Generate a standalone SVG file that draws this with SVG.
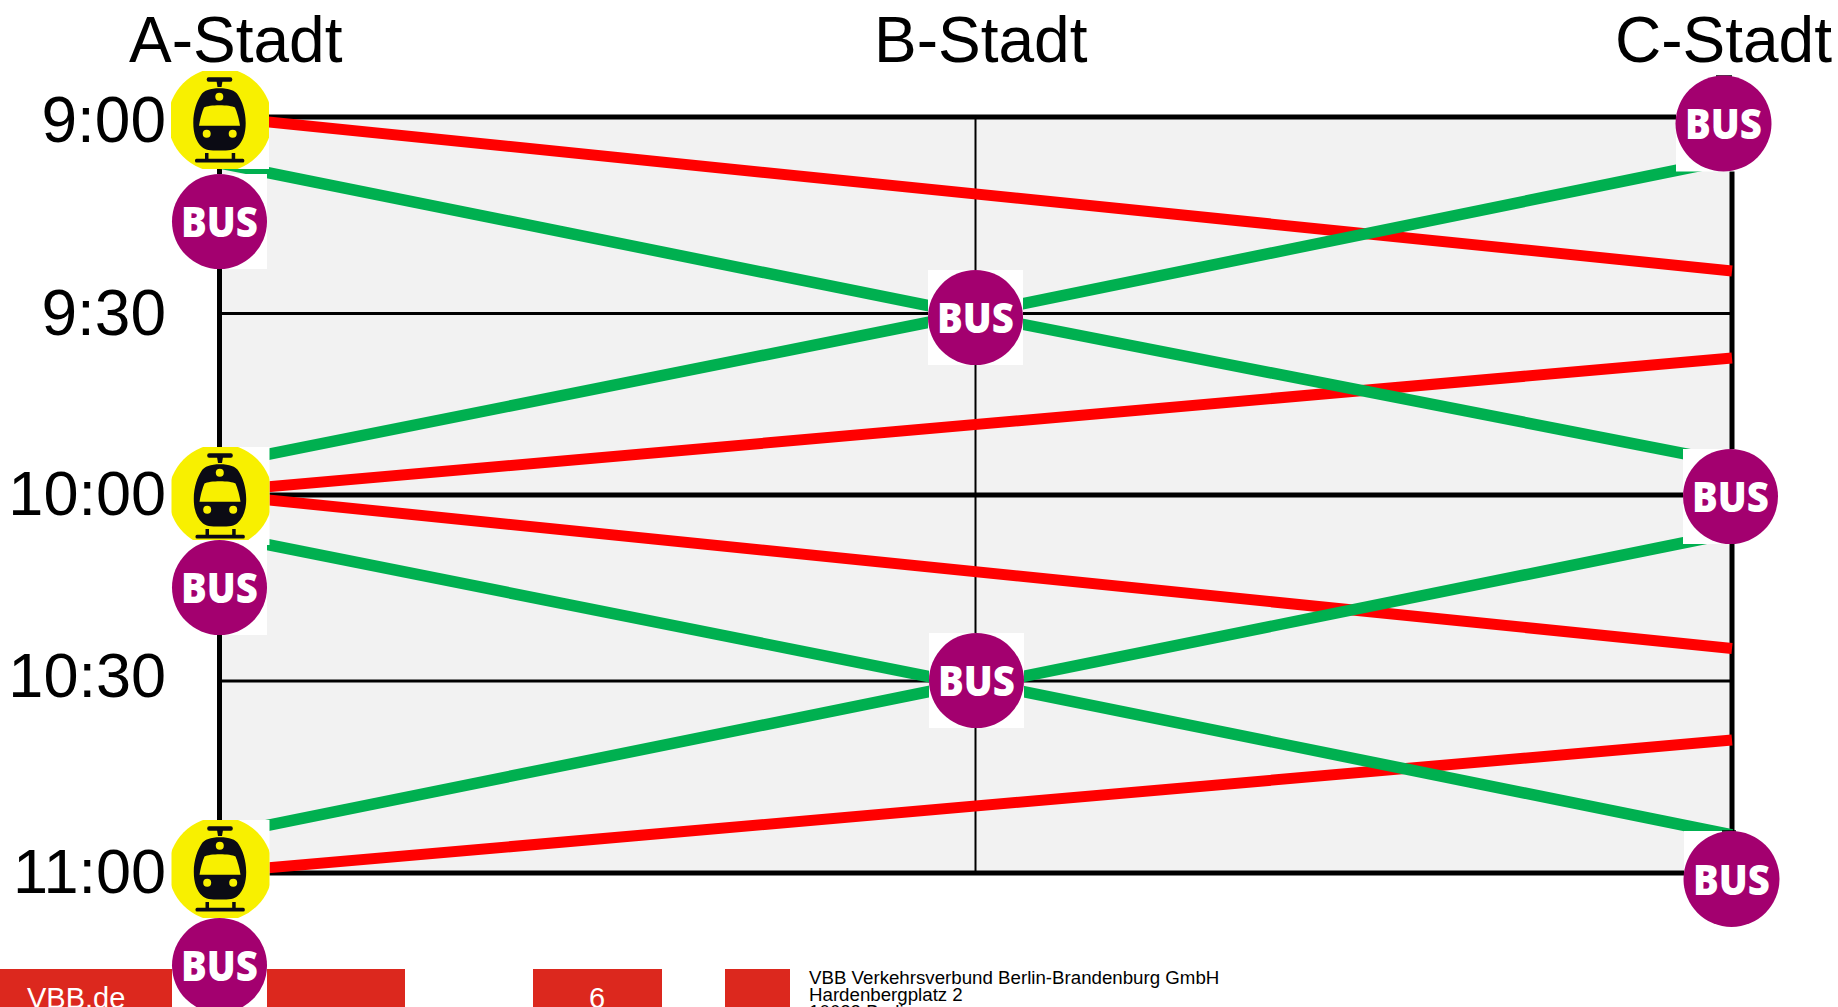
<svg xmlns="http://www.w3.org/2000/svg" width="1838" height="1007" viewBox="0 0 1838 1007">
<style>
text{font-family:"Liberation Sans",Arial,sans-serif;fill:#000}
.h{font-size:64px}
.t{font-size:64px;text-anchor:end}
.t2{font-size:63px;text-anchor:end}
.f{font-size:18.7px}
.w{font-size:29px;fill:#fff}
.foot{fill:#dc281e}
.thick{stroke:#000;stroke-width:5;fill:none}
.thin{stroke:#000;stroke-width:3;fill:none}
.thinv{stroke:#000;stroke-width:2;fill:none}
.red{stroke:#f00;stroke-width:11;fill:none}
.green{stroke:#00b050;stroke-width:11.500;fill:none}
.bg{fill:#fff}
.disc{fill:#a3006f}
.bus{font-family:"Open Sans","Noto Sans",sans-serif;font-weight:800;font-size:42px;fill:#fff;text-anchor:middle}
.ink{fill:#0b0b14}
.y{fill:#f8f000}
</style>
<defs>
<clipPath id="box"><rect width="98" height="98"/></clipPath>
<g id="train">
<rect class="bg" width="98" height="98"/>
<circle class="y" cx="49" cy="49" r="52" clip-path="url(#box)"/>
<rect class="ink" x="35.700" y="6.300" width="25.600" height="4.400" rx="2"/>
<path class="ink" d="M45.500 10L51.500 10L50.500 16L46.500 16Z"/>
<path class="ink" d="M48.500 17.300C58 17.300 64 19.500 67 24C71 30 74.700 40 74.700 52C74.700 62 72 71 66 76C63 79 58 79.500 48.500 79.500C39 79.500 34 79 31 76C25 71 22.300 62 22.300 52C22.300 40 26 30 30 24C33 19.500 39 17.300 48.500 17.300Z"/>
<circle class="y" cx="48.300" cy="25.700" r="4"/>
<path class="y" d="M33 36.500C38 33.500 59 33.500 64 36.500C66 41 68 48 69 54.700L28 54.700C29 48 31 41 33 36.500Z"/>
<circle class="y" cx="35.700" cy="62.700" r="4"/>
<circle class="y" cx="61.700" cy="62.700" r="4"/>
<rect class="ink" x="24" y="87.700" width="49.300" height="3.800" rx="1.500"/>
<rect class="ink" x="34" y="82" width="3.500" height="6"/>
<rect class="ink" x="60.700" y="82" width="3.500" height="6"/>
</g>
</defs>

<g id="grid">
<rect x="219.500" y="117" width="1512.500" height="756" fill="#f2f2f2"/>
<path class="thin" d="M219.500 313.500H1732M219.500 681H1732"/>
<path class="thinv" d="M975.500 117V873"/>
<path class="thick" d="M219.500 117H1732V873H219.500ZM219.500 495H1732"/>
</g>

<g id="connectors">
<path class="red" d="M220 117L1732 271"/>
<path class="red" d="M220 491L1732 358"/>
<path class="red" d="M220 495L1732 648.500"/>
<path class="red" d="M220 872L1732 740"/>
<path class="green" d="M220 163L975 315"/>
<path class="green" d="M220 464L975 313"/>
<path class="green" d="M975 313.500L1732 159"/>
<path class="green" d="M975 315L1732 463"/>
<path class="green" d="M220 535L976 686"/>
<path class="green" d="M220 835L976 682"/>
<path class="green" d="M976 686L1732 533"/>
<path class="green" d="M976 682L1732 835"/>
</g>

<g id="footer">
<rect class="foot" x="0" y="969" width="405" height="38"/>
<rect class="foot" x="533" y="969" width="129" height="38"/>
<rect class="foot" x="725" y="969" width="65" height="38"/>
<text class="w" x="27" y="1008">VBB.de</text>
<text class="w" x="589" y="1008">6</text>
<text class="f" x="809" y="984">VBB Verkehrsverbund Berlin-Brandenburg GmbH</text>
<text class="f" x="809" y="1001">Hardenbergplatz 2</text>
<text class="f" x="809" y="1018">10623 Berlin</text>
</g>

<g id="labels">
<text class="h" x="129" y="62">A-Stadt</text>
<text class="h" x="874" y="62">B-Stadt</text>
<text class="h" x="1615" y="62">C-Stadt</text>
<text class="t" x="166" y="142">9:00</text>
<text class="t" x="166" y="335">9:30</text>
<text class="t2" x="166" y="515">10:00</text>
<text class="t2" x="166" y="697">10:30</text>
<text class="t2" x="166" y="893">11:00</text>
</g>

<g id="train-a1"><use href="#train" x="171" y="71"/></g>
<g id="train-a2"><use href="#train" x="171.500" y="447"/></g>
<g id="train-a3"><use href="#train" x="171.500" y="820"/></g>

<g id="bus-a1" transform="translate(172,174)"><rect class="bg" width="95" height="95"/><circle class="disc" cx="47.500" cy="47.500" r="47.500"/><text class="bus" x="47.500" y="63" textLength="77" lengthAdjust="spacingAndGlyphs">BUS</text></g>
<g id="bus-a2" transform="translate(172,540)"><rect class="bg" width="95" height="95"/><circle class="disc" cx="47.500" cy="47.500" r="47.500"/><text class="bus" x="47.500" y="63" textLength="77" lengthAdjust="spacingAndGlyphs">BUS</text></g>
<g id="bus-a3" transform="translate(172,918)"><rect class="bg" width="95" height="95"/><circle class="disc" cx="47.500" cy="47.500" r="47.500"/><text class="bus" x="47.500" y="63" textLength="77" lengthAdjust="spacingAndGlyphs">BUS</text></g>
<g id="bus-b1" transform="translate(928,270)"><rect class="bg" width="95" height="95"/><circle class="disc" cx="47.500" cy="47.500" r="47.500"/><text class="bus" x="47.500" y="63" textLength="77" lengthAdjust="spacingAndGlyphs">BUS</text></g>
<g id="bus-b2" transform="translate(929,633)"><rect class="bg" width="95" height="95"/><circle class="disc" cx="47.500" cy="47.500" r="47.500"/><text class="bus" x="47.500" y="63" textLength="77" lengthAdjust="spacingAndGlyphs">BUS</text></g>
<g id="bus-c1" transform="translate(1676,75.500)"><rect class="bg" y="1" width="95" height="95"/><path d="M40 0.500H56" stroke="#000" stroke-width="1.500"/><circle class="disc" cx="47.500" cy="48" r="48"/><text class="bus" x="47.500" y="63.500" textLength="77" lengthAdjust="spacingAndGlyphs">BUS</text></g>
<g id="bus-c2" transform="translate(1683,449)"><rect class="bg" width="95" height="95"/><circle class="disc" cx="47.500" cy="47.500" r="47.500"/><text class="bus" x="47.500" y="63" textLength="77" lengthAdjust="spacingAndGlyphs">BUS</text></g>
<g id="bus-c3" transform="translate(1684,830)"><rect class="bg" y="1" width="95" height="96"/><path d="M38 1H52" stroke="#000" stroke-width="1.500"/><circle class="disc" cx="47.500" cy="49" r="48"/><text class="bus" x="47.500" y="64.500" textLength="77" lengthAdjust="spacingAndGlyphs">BUS</text></g>
</svg>
